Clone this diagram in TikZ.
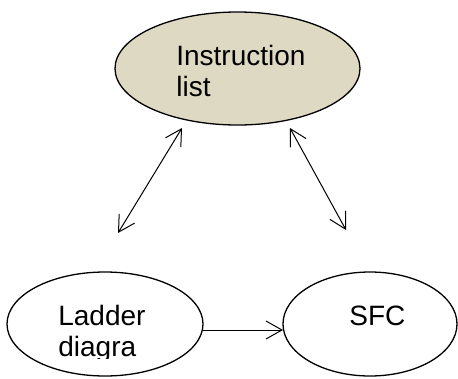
\documentclass[tikz,border=0pt]{standalone}
\usepackage{fontspec}
\setmainfont{Liberation Sans}
\usetikzlibrary{shapes.geometric,arrows.meta}

\definecolor{bubble}{RGB}{221,217,195}

\begin{document}
\begin{tikzpicture}[x=1pt,y=-1pt,every node/.style={outer sep=0pt,font=\fontsize{28}{31}\selectfont}]
      \tikzstyle{blob}=[draw,ellipse,line width=1.3pt,inner sep=0pt]
      \tikzstyle{link}=[line width=1pt,-{Straight Barb[length=16pt,width=18pt,line width=1pt]}]
      \tikzstyle{twoway}=[line width=1pt,{Straight Barb[length=16pt,width=18pt,line width=1pt]}-{Straight Barb[length=16pt,width=18pt,line width=1pt]}]
      \useasboundingbox (0,0) rectangle (458,378);

      \node (IL) at (237.5,68.5) [blob,fill=bubble,minimum width=245pt,minimum height=113pt] {};
      \node (LD) at (105,324) [blob,minimum width=196pt,minimum height=104pt] {};
      \node (SFC) at (370,324) [blob,minimum width=174pt,minimum height=104pt] {};

      \node (ILtext) at (173,96) [anchor=base west,align=left] {Instruction\\list};
      \begin{scope}
        \clip (0,0) rectangle (458,358);
        \node (LDtext) at (55,356) [anchor=base west,align=left] {Ladder\\diagra};
      \end{scope}
      \node (SFCtext) at (346,325) [anchor=base west] {SFC};

      \coordinate (a1) at (118,233);
      \coordinate (a2) at (182,128);
      \coordinate (b1) at (290,128);
      \coordinate (b2) at (346,230);
      \coordinate (c1) at (202,330);
      \coordinate (c2) at (283,330);

      \draw [twoway] (a1) -- (a2);
      \draw [twoway] (b1) -- (b2);
      \draw [link] (c1) -- (c2);
    \end{tikzpicture}
\end{document}
